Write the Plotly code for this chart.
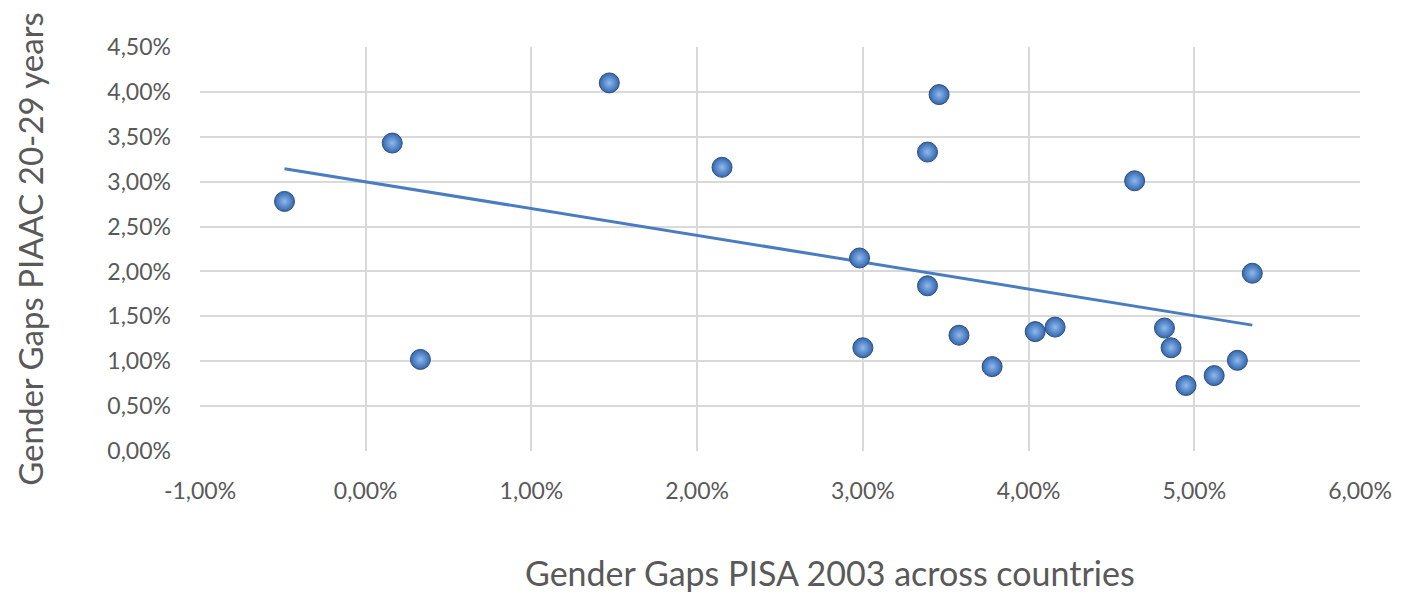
import numpy as np
import plotly.graph_objects as go

# Gender gaps (fractions)
pisa_2003 = [-0.0049, 0.0016, 0.0033, 0.0147, 0.0215, 0.0298, 0.0300, 0.0339, 0.0339, 0.0346,
             0.0358, 0.0378, 0.0404, 0.0416, 0.0464, 0.0482, 0.0486, 0.0495, 0.0512, 0.0526, 0.0535]
piaac_20_29 = [0.0278, 0.0343, 0.0102, 0.0410, 0.0316, 0.0215, 0.0115, 0.0333, 0.0184, 0.0397,
               0.0129, 0.0094, 0.0133, 0.0138, 0.0301, 0.0137, 0.0115, 0.0073, 0.0084, 0.0101, 0.0198]

x_tick_vals = [-0.01, 0.0, 0.01, 0.02, 0.03, 0.04, 0.05, 0.06]
x_tick_text = ["-1,00%", "0,00%", "1,00%", "2,00%", "3,00%", "4,00%", "5,00%", "6,00%"]
y_tick_vals = [0.0, 0.005, 0.01, 0.015, 0.02, 0.025, 0.03, 0.035, 0.04, 0.045]
y_tick_text = ["0,00%", "0,50%", "1,00%", "1,50%", "2,00%", "2,50%", "3,00%", "3,50%", "4,00%", "4,50%"]

x_title = "Gender Gaps PISA 2003 across countries"
y_title = "Gender Gaps PIAAC 20-29 years"

x = np.array(pisa_2003)
y = np.array(piaac_20_29)
slope, intercept = np.polyfit(x, y, 1)
tx = np.array([x.min(), x.max()])
ty = slope * tx + intercept

fig = go.Figure()
fig.add_trace(go.Scatter(
    x=tx, y=ty, mode="lines",
    line=dict(color="#4A7DC0", width=3),
    hoverinfo="skip", showlegend=False,
))
fig.add_trace(go.Scatter(
    x=x, y=y, mode="markers",
    marker=dict(size=20, color="#3466AC",
                gradient=dict(type="radial", color="#8DBAF0"),
                line=dict(color="#2A4F82", width=1)),
    showlegend=False,
))

axis_font = dict(family="Lato, 'Open Sans', sans-serif", size=23, color="#595959")
fig.update_layout(
    width=1406, height=595,
    margin=dict(l=192, r=54, t=39, b=152, autoexpand=False),
    paper_bgcolor="white", plot_bgcolor="white",
    font=axis_font,
    xaxis=dict(
        range=[-0.01, 0.06], tickvals=x_tick_vals, ticktext=x_tick_text,
        showgrid=True, gridcolor="#D9D9D9", gridwidth=2,
        zeroline=False, showline=False, ticks="", automargin=False,
        ticklabelstandoff=24,
    ),
    yaxis=dict(
        range=[0, 0.045], tickvals=y_tick_vals, ticktext=y_tick_text,
        showgrid=True, gridcolor="#D9D9D9", gridwidth=2,
        zeroline=False, showline=False, ticks="", automargin=False,
        ticklabelstandoff=28,
        title=dict(text=y_title, font=dict(size=33, color="#595959"), standoff=53),
    ),
    annotations=[dict(
        text=x_title, xref="paper", yref="paper", x=0.543, y=-0.300,
        xanchor="center", yanchor="middle", showarrow=False,
        font=dict(size=34, color="#595959"),
    )],
)

fig.write_html("out.html")
